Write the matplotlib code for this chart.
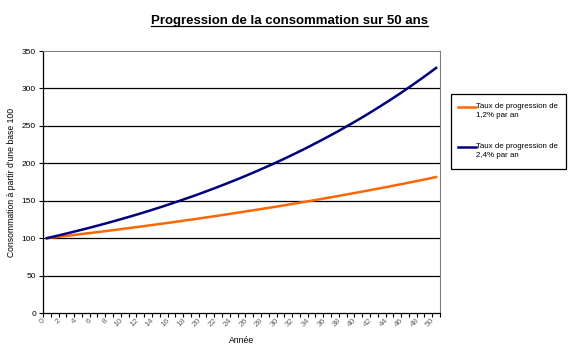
import matplotlib.pyplot as plt
from matplotlib.patches import Rectangle
import numpy as np

# Données
annees = list(range(0, 51))
taux_12 = [100.0, 101.2, 102.4, 103.6, 104.9, 106.2, 107.4, 108.7, 110.0, 111.3,
           112.7, 114.0, 115.4, 116.8, 118.2, 119.6, 121.0, 122.5, 124.0, 125.4,
           127.0, 128.5, 130.0, 131.6, 133.2, 134.8, 136.4, 138.0, 139.7, 141.3,
           143.0, 144.8, 146.5, 148.3, 150.0, 151.8, 153.7, 155.5, 157.4, 159.3,
           161.2, 163.1, 165.1, 167.0, 169.0, 171.1, 173.1, 175.2, 177.3, 179.4,
           181.6]
taux_24 = [100.0, 102.4, 104.9, 107.4, 110.0, 112.6, 115.3, 118.1, 120.9, 123.8,
           126.8, 129.8, 132.9, 136.1, 139.4, 142.7, 146.2, 149.7, 153.3, 156.9,
           160.7, 164.6, 168.5, 172.6, 176.7, 180.9, 185.3, 189.7, 194.3, 198.9,
           203.7, 208.6, 213.6, 218.7, 224.0, 229.4, 234.9, 240.5, 246.3, 252.2,
           258.2, 264.4, 270.8, 277.3, 283.9, 290.7, 297.7, 304.9, 312.2, 319.7,
           327.4]
labels = ["Taux de progression de\n1,2% par an", "Taux de progression de\n2,4% par an"]
couleurs = ['#FF6600', '#000080']

plt.rcParams['font.family'] = ['Liberation Sans', 'DejaVu Sans']

W, H = 576, 359
fig = plt.figure(figsize=(W / 100, H / 100), dpi=100)
ax = fig.add_axes([43 / W, 1 - 313 / H, 397 / W, 262 / H])

ax.plot(annees, taux_12, color=couleurs[0], linewidth=1.8)
ax.plot(annees, taux_24, color=couleurs[1], linewidth=1.8)

ax.set_xlim(-0.5, 50.5)
ax.set_ylim(0, 350)
ax.set_yticks(range(0, 351, 50))
ax.set_yticklabels([str(v) for v in range(0, 351, 50)], fontsize=6)
ax.set_xticks(np.arange(-0.5, 51, 1))
ax.set_xticklabels([])
ax.set_xticks(annees[::2], minor=True)
ax.set_xticklabels([str(a) for a in annees[::2]], minor=True, fontsize=6,
                   rotation=45, ha='right', va='top', color='#666666')
ax.tick_params(axis='x', which='major', direction='out', length=3, width=0.8)
ax.tick_params(axis='x', which='minor', length=0, pad=3)
ax.tick_params(axis='y', direction='out', length=3, width=0.8, pad=2)

for v in range(50, 350, 50):
    ax.axhline(v, color='black', linewidth=0.9, zorder=0)

ax.spines['top'].set_color('#808080')
ax.spines['right'].set_color('#808080')
ax.spines['left'].set_linewidth(0.9)
ax.spines['bottom'].set_linewidth(0.9)

ax.set_xlabel('Année', fontsize=6.2, labelpad=5)
ax.set_ylabel("Consommation à partir d'une base 100", fontsize=6.2, labelpad=4)

# Légende dessinée à la main (cadre noir, trait au niveau de la 1re ligne)
fig.add_artist(Rectangle((451 / W, 1 - 169 / H), 115 / W, 75 / H, transform=fig.transFigure,
                         facecolor='white', edgecolor='black', linewidth=0.9))
for lab, coul, y in zip(labels, couleurs, [107, 147]):
    fig.add_artist(plt.Line2D([458 / W, 476 / W], [1 - y / H, 1 - y / H], color=coul,
                              linewidth=1.8, transform=fig.transFigure))
    fig.text(476 / W, 1 - (y - 4.5) / H, lab, fontsize=5.7, ha='left', va='top',
             linespacing=1.55)

# Titre souligné
titre = fig.text(0.502, 0.942, 'Progression de la consommation sur 50 ans',
                 ha='center', va='center', fontsize=9.5, fontweight='bold')
fig.canvas.draw()
bb = titre.get_window_extent().transformed(fig.transFigure.inverted())
fig.add_artist(plt.Line2D([bb.x0, bb.x1], [bb.y0 + 0.002, bb.y0 + 0.002],
                          color='black', linewidth=0.9, transform=fig.transFigure))

fig.savefig('out.png', dpi=100)
